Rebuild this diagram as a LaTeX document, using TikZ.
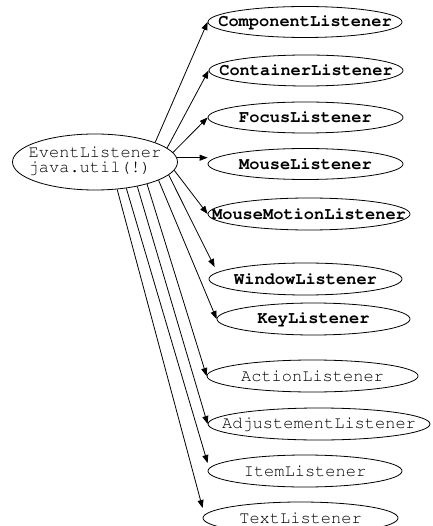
\documentclass[tikz,border=0pt]{standalone}
\usepackage[T1]{fontenc}
\usepackage{courier}
\usepackage{tikz}
\usetikzlibrary{arrows.meta, shapes.geometric}

\begin{document}
\begin{tikzpicture}[x=1pt, y=-1pt, line width=0.8pt, >={Triangle[length=8pt, width=6pt]},
    listener/.style={ellipse, draw, inner sep=0pt, minimum height=32pt, font=\ttfamily\fontsize{17}{15}\selectfont},
    awt/.style={listener, minimum height=31pt, font=\ttfamily\bfseries\fontsize{17}{15}\selectfont}]
    \useasboundingbox (0,0) rectangle (432,526);
    \node[listener, minimum width=165pt, minimum height=56pt] (ev) at (95,162)
        {\makebox[0pt]{\begin{tabular}{@{}l@{}}EventListener\\java.util(!)\end{tabular}}};
    \node[awt, minimum width=194pt] (compl) at (305,22) {\makebox[0pt]{ComponentListener}};
    \node[awt, minimum width=194pt] (contl) at (306,70.5) {\makebox[0pt]{ContainerListener}};
    \node[awt, minimum width=195pt] (focl) at (305.5,117.5) {\makebox[0pt]{FocusListener}};
    \node[awt, minimum width=195pt] (mousel) at (305.5,164) {\makebox[0pt]{MouseListener}};
    \node[awt, minimum width=202pt, minimum height=32pt] (motl) at (309,214) {\makebox[0pt]{MouseMotionListener}};
    \node[awt, minimum width=193pt, minimum height=32pt] (winl) at (305.5,279) {\makebox[0pt]{WindowListener}};
    \node[awt, minimum width=193pt, minimum height=32pt] (keyl) at (313.5,319) {\makebox[0pt]{KeyListener}};
    \node[listener, minimum width=211pt] (actl) at (312.5,376) {\makebox[0pt]{ActionListener}};
    \node[listener, minimum width=222pt] (adjl) at (319,424) {\makebox[0pt]{AdjustementListener}};
    \node[listener, minimum width=194pt] (iteml) at (305,471) {\makebox[0pt]{ItemListener}};
    \node[listener, minimum width=195pt] (textl) at (300.5,518) {\makebox[0pt]{TextListener}};
    \draw[->] (ev.18) -- (compl.west);
    \draw[->] (ev.11) -- (contl.west);
    \draw[->] (ev.7) -- (focl.west);
    \draw[->] (ev.3) -- (ev.3 -| mousel.west);
    \draw[->] (ev.-6) -- (motl.west);
    \draw[->] (ev.-10) -- ([xshift=6pt, yshift=12pt]winl.west);
    \draw[->] (ev.-16) -- (keyl.west);
    \draw[->] (ev.-23) -- (actl.west);
    \draw[->] (ev.-30) -- (adjl.west);
    \draw[->] (ev.-40) -- ([yshift=8pt]iteml.west);
    \draw[->] (ev.-51) -- ([yshift=10pt]textl.west);
\end{tikzpicture}
\end{document}
